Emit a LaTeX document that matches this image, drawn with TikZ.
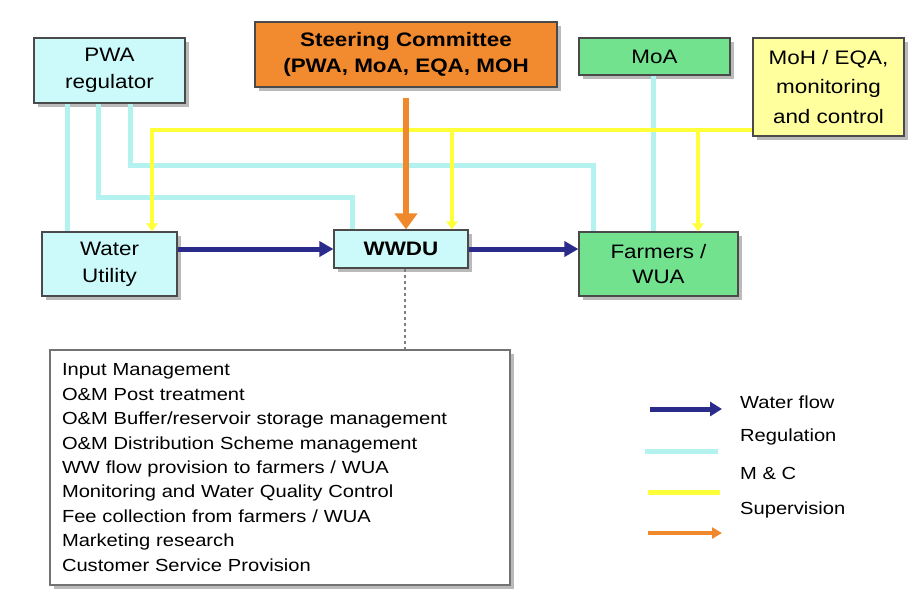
\documentclass[tikz,border=0pt]{standalone}
\usepackage{fontspec}
\setmainfont{Liberation Sans}[FakeStretch=1.15]
\usetikzlibrary{arrows.meta,shadows}

\definecolor{boxcyan}{HTML}{CCFAFA}
\definecolor{boxorange}{HTML}{F28A30}
\definecolor{boxgreen}{HTML}{72E28E}
\definecolor{boxyellow}{HTML}{FFFF9E}
\definecolor{edgegray}{HTML}{4A4A4A}
\definecolor{regline}{HTML}{B4F2F0}
\definecolor{mcline}{HTML}{FFFF3A}
\definecolor{flowblue}{HTML}{2B2B8C}
\definecolor{supline}{HTML}{F0892C}

\begin{document}
\begin{tikzpicture}[x=1pt,y=-1pt,
  box/.style={draw=edgegray, line width=1.2pt, align=center, inner sep=0pt,
    font=\fontsize{19.5}{27}\selectfont,
    drop shadow={shadow xshift=3.5pt, shadow yshift=-3.5pt, fill=black!45, opacity=0.6}},
  reg/.style={draw=regline, line width=5pt},
  mc/.style={draw=mcline, line width=4.5pt, -{Triangle[length=8pt,width=11pt]}},
  flow/.style={draw=flowblue, line width=5pt, -{Triangle[length=14pt,width=15pt]}},
  sup/.style={draw=supline, line width=6pt, -{Triangle[length=16pt,width=22pt]}},
  legtext/.style={anchor=west, inner sep=0pt, font=\fontsize{17.5}{20}\selectfont}
]
\useasboundingbox[fill=white] (0,0) rectangle (912,590);

% boxes
\node[box, fill=boxcyan, minimum width=151pt, minimum height=65pt] (pwa) at (109.5,70.5) {PWA\\regulator};
\node[box, fill=boxorange, minimum width=302pt, minimum height=65pt, font=\fontsize{19.5}{26}\selectfont\bfseries] (steer) at (406,54.5) {Steering Committee\\(PWA, MoA, EQA, MOH};
\node[box, fill=boxgreen, minimum width=151pt, minimum height=37pt] (moa) at (654.5,56.5) {MoA};
\node[box, fill=boxyellow, minimum width=151pt, minimum height=98pt, font=\fontsize{19.5}{29.5}\selectfont] (moh) at (828.5,87) {MoH / EQA,\\monitoring\\and control};
\node[box, fill=boxcyan, minimum width=135pt, minimum height=64pt] (wu) at (109.5,264) {Water\\Utility};
\node[box, fill=boxcyan, minimum width=134pt, minimum height=38pt, font=\fontsize{19.5}{27}\selectfont\bfseries] (wwdu) at (401,249) {WWDU};
\node[box, fill=boxgreen, minimum width=159pt, minimum height=64pt, font=\fontsize{19.5}{25.5}\selectfont] (farm) at (658.5,264) {Farmers /\\WUA};
\node[box, fill=white, draw=gray!90!black, line width=2pt, minimum width=460pt, minimum height=235pt,
      align=left, text width=436pt, font=\fontsize{17.5}{24.4}\selectfont] (list) at (280,467.5)
  {Input Management\\O\&M Post treatment\\O\&M Buffer/reservoir storage management\\O\&M Distribution Scheme management\\WW flow provision to farmers / WUA\\Monitoring and Water Quality Control\\Fee collection from farmers / WUA\\Marketing research\\Customer Service Provision};

% regulation lines
\draw[reg] ([xshift=-42.5pt]pwa.south) -- ([xshift=-42.5pt]pwa.south |- wu.north);
\draw[reg] ([xshift=-11.5pt]pwa.south) |- (352,197) -- (352,0 |- wwdu.north);
\draw[reg] ([xshift=20.5pt]pwa.south) |- (593,165) -- (593,0 |- farm.north);
\draw[reg] (moa.south -| 653,0) -- (farm.north -| 653,0);

% M & C lines
\coordinate (yh) at (152,130);
\draw[draw=mcline, line width=4.5pt] (moh.west |- yh) -- (yh);
\draw[mc] ([xshift=-2.25pt]yh) -| (yh |- wu.north);
\draw[mc] (452,130) -- (452,0 |- wwdu.north);
\draw[mc] (698,130) -- (698,0 |- farm.north);

% water flow
\draw[flow] (wu.east |- wwdu.west) -- (wwdu.west);
\draw[flow] (wwdu.east) -- (farm.west |- wwdu.east);

% supervision
\draw[sup] ([yshift=-10pt]steer.south) -- (wwdu.north -| steer.south);

% dotted link
\draw[gray, line width=2pt, dash pattern=on 3pt off 3pt] ([xshift=4pt]wwdu.south) -- ([xshift=4pt]wwdu.south |- list.north);

% legend
\coordinate (lf1) at (650,409); \coordinate (lf2) at (722,409);
\coordinate (lr1) at (645,451); \coordinate (lr2) at (718,451);
\coordinate (lm1) at (648,492); \coordinate (lm2) at (720,492);
\coordinate (ls1) at (648,533); \coordinate (ls2) at (722,533);
\draw[draw=flowblue, line width=5pt, -{Triangle[length=12pt,width=14pt]}] (lf1) -- (lf2);
\draw[reg] (lr1) -- (lr2);
\draw[draw=mcline, line width=5pt] (lm1) -- (lm2);
\draw[draw=supline, line width=4pt, -{Triangle[length=10pt,width=11pt]}] (ls1) -- (ls2);
\node[legtext] (tf) at (740,402) {Water flow};
\node[legtext] (tr) at (740,437) {Regulation};
\node[legtext] (tm) at (740,473) {M \& C};
\node[legtext] (ts) at (740,510) {Supervision};
\end{tikzpicture}
\end{document}
